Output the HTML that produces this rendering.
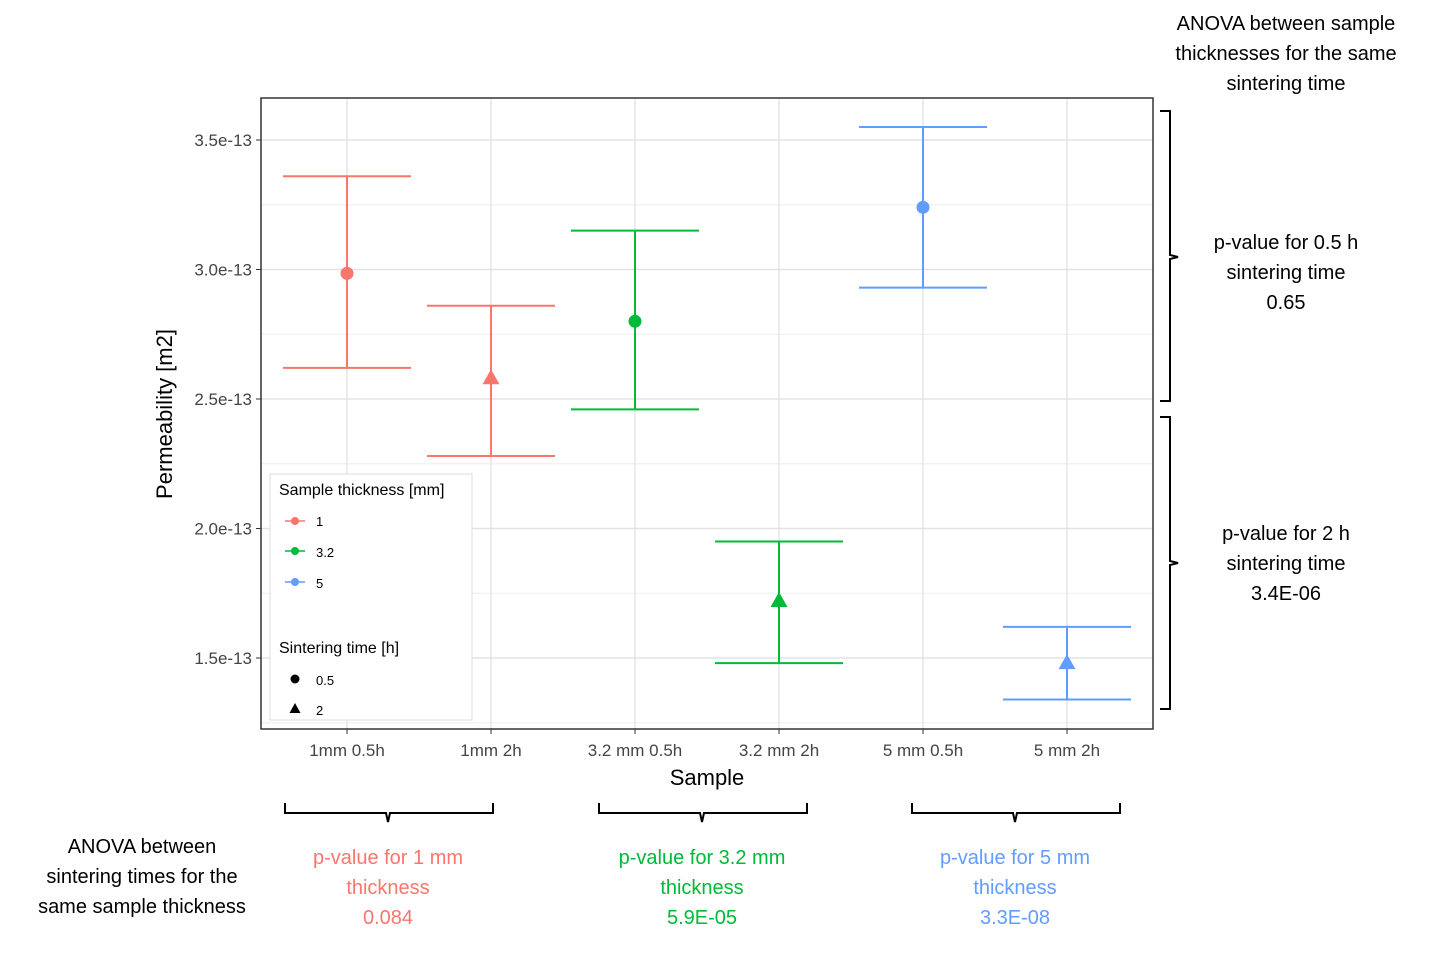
<!DOCTYPE html>
<html><head><meta charset="utf-8"><style>
body{margin:0;background:#fff;width:1430px;height:962px;overflow:hidden}
svg{font-family:"Liberation Sans",sans-serif}
.ann{font-size:20px}
</style></head><body>
<svg id="chart" width="1430" height="962">
<rect x="261" y="98" width="892" height="631" fill="#fff"/>
<g id="grid"></g>
<g id="marks"></g>
<rect x="261" y="98" width="892" height="631" fill="none" stroke="#333" stroke-width="1.5"/>
<g id="axes"></g>
<text x="707" y="785" font-size="22" text-anchor="middle">Sample</text>
<text transform="translate(172,414) rotate(-90)" font-size="22" text-anchor="middle">Permeability [m2]</text>
<g>
<rect x="270" y="474" width="202" height="246" fill="#fff" stroke="#ddd"/>
<text x="279" y="495" font-size="16">Sample thickness [mm]</text>
<line x1="285" y1="521" x2="305" y2="521" stroke="#F8766D" stroke-width="1.5"/><circle cx="295" cy="521" r="4" fill="#F8766D"/><text x="316" y="526" font-size="13">1</text>
<line x1="285" y1="551" x2="305" y2="551" stroke="#00BA38" stroke-width="1.5"/><circle cx="295" cy="551" r="4" fill="#00BA38"/><text x="316" y="557" font-size="13">3.2</text>
<line x1="285" y1="582" x2="305" y2="582" stroke="#619CFF" stroke-width="1.5"/><circle cx="295" cy="582" r="4" fill="#619CFF"/><text x="316" y="588" font-size="13">5</text>
<text x="279" y="653" font-size="16">Sintering time [h]</text>
<circle cx="295" cy="679" r="4.5" fill="#000"/><text x="316" y="685" font-size="13">0.5</text>
<polygon points="295,703 300.5,713 289.5,713" fill="#000"/><text x="316" y="715" font-size="13">2</text>
</g>
<g class="ann" text-anchor="middle">
<text x="1286" y="30">ANOVA between sample</text>
<text x="1286" y="60">thicknesses for the same</text>
<text x="1286" y="90">sintering time</text>
<path d="M1160,111 H1170 V255 L1178,257 L1170,259 V401 H1160" fill="none" stroke="#000" stroke-width="2"/>
<path d="M1160,417 H1170 V561 L1178,563 L1170,565 V709 H1160" fill="none" stroke="#000" stroke-width="2"/>
<text x="1286" y="249">p-value for 0.5 h</text><text x="1286" y="279">sintering time</text><text x="1286" y="309">0.65</text>
<text x="1286" y="540">p-value for 2 h</text><text x="1286" y="570">sintering time</text><text x="1286" y="600">3.4E-06</text>
</g>
<g class="ann" text-anchor="middle">
<text x="142" y="853">ANOVA between</text><text x="142" y="883">sintering times for the</text><text x="142" y="913">same sample thickness</text>
<path d="M285,803 V813 H386 L388,822 L390,813 H493 V803" fill="none" stroke="#000" stroke-width="2"/>
<path d="M599,803 V813 H700 L702,822 L704,813 H807 V803" fill="none" stroke="#000" stroke-width="2"/>
<path d="M912,803 V813 H1013 L1015,822 L1017,813 H1120 V803" fill="none" stroke="#000" stroke-width="2"/>
<g fill="#F8766D"><text x="388" y="864">p-value for 1 mm</text><text x="388" y="894">thickness</text><text x="388" y="924">0.084</text></g>
<g fill="#00BA38"><text x="702" y="864">p-value for 3.2 mm</text><text x="702" y="894">thickness</text><text x="702" y="924">5.9E-05</text></g>
<g fill="#619CFF"><text x="1015" y="864">p-value for 5 mm</text><text x="1015" y="894">thickness</text><text x="1015" y="924">3.3E-08</text></g>
</g>
</svg>
<script>
const categories=["1mm 0.5h","1mm 2h","3.2 mm 0.5h","3.2 mm 2h","5 mm 0.5h","5 mm 2h"];
const means=[2.985,2.58,2.80,1.72,3.24,1.48];
const uppers=[3.36,2.86,3.15,1.95,3.55,1.62];
const lowers=[2.62,2.28,2.46,1.48,2.93,1.34];
const thickness=["1","1","3.2","3.2","5","5"];
const times=["0.5","2","0.5","2","0.5","2"];
const yTicks=[1.5,2.0,2.5,3.0,3.5];
const yTickLabels=["1.5e-13","2.0e-13","2.5e-13","3.0e-13","3.5e-13"];
const colors={"1":"#F8766D","3.2":"#00BA38","5":"#619CFF"};
const NS="http://www.w3.org/2000/svg";
const y=v=>658-(v-1.5)*259;
const x=i=>347+i*144;
function el(t,a,p){const e=document.createElementNS(NS,t);for(const k in a)e.setAttribute(k,a[k]);p.appendChild(e);return e;}
const grid=document.getElementById('grid'),marks=document.getElementById('marks'),axes=document.getElementById('axes');
for(let k=0;k<yTicks.length;k++){
  const g=el('line',{x1:261,x2:1153,y1:y(yTicks[k]),y2:y(yTicks[k]),stroke:'#e3e3e3','stroke-width':1.4},grid);
  
  
  if(k<yTicks.length-1){const m=el('line',{x1:261,x2:1153,y1:y(yTicks[k]+0.25),y2:y(yTicks[k]+0.25),stroke:'#eeeeee','stroke-width':1},grid);
  
  }
  el('line',{x1:256,x2:261,y1:y(yTicks[k]),y2:y(yTicks[k]),stroke:'#333'},axes);
  const t=el('text',{x:252,y:y(yTicks[k])+6,'text-anchor':'end','font-size':17,fill:'#444'},axes);t.textContent=yTickLabels[k];
  
  
}
{const m=el('line',{x1:261,x2:1153,y1:y(1.25),y2:y(1.25),stroke:'#eeeeee'},grid);}
categories.forEach((c,i)=>{
  const g=el('line',{x1:x(i),x2:x(i),y1:98,y2:729,stroke:'#e3e3e3','stroke-width':1.4},grid);
  
  
  el('line',{x1:x(i),x2:x(i),y1:729,y2:734,stroke:'#333'},axes);
  const t=el('text',{x:x(i),y:756,'text-anchor':'middle','font-size':17,fill:'#444'},axes);t.textContent=c;
  
  
  const col=colors[thickness[i]];
  const grp=el('g',{stroke:col,'stroke-width':2,fill:col},marks);
  
  
  el('line',{x1:x(i),x2:x(i),y1:y(uppers[i]),y2:y(lowers[i])},grp);
  el('line',{x1:x(i)-64,x2:x(i)+64,y1:y(uppers[i]),y2:y(uppers[i])},grp);
  el('line',{x1:x(i)-64,x2:x(i)+64,y1:y(lowers[i]),y2:y(lowers[i])},grp);
  const cy=y(means[i]);
  let p;
  if(times[i]==="0.5") p=el('circle',{cx:x(i),cy:cy,r:6.5,stroke:'none'},marks);
  else p=el('polygon',{points:`${x(i)},${cy-9} ${x(i)+8.5},${cy+6} ${x(i)-8.5},${cy+6}`,stroke:'none'},marks);
  p.setAttribute('fill',col);
  
  
});
</script>
</body></html>
